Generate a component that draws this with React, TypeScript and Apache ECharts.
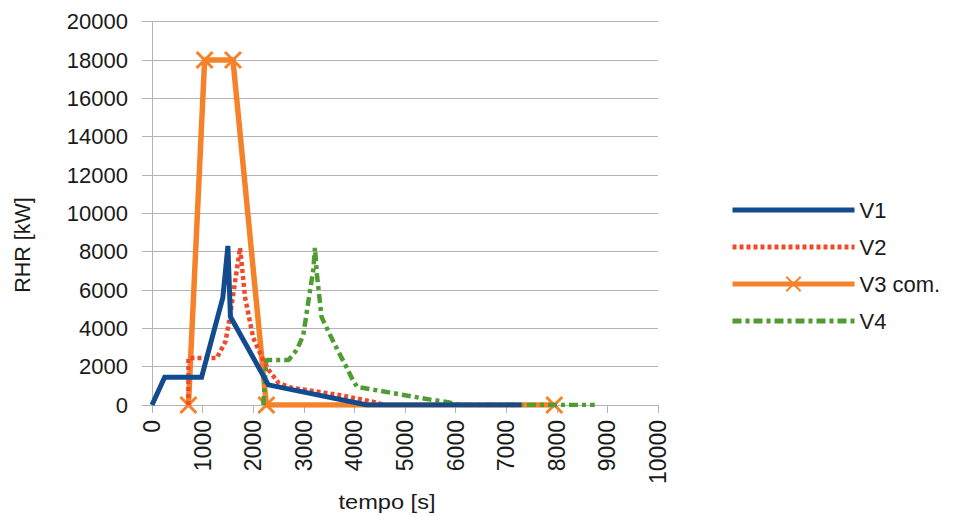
import React, { useEffect, useRef } from "react";
import * as echarts from "echarts";

const seriesNames = ["V1", "V2", "V3 com.", "V4"];

const v1Time = [0, 250, 980, 1400, 1500, 1550, 2300, 4250, 7300];
const v1Rhr = [0, 1450, 1450, 5600, 8300, 4600, 1050, 0, 0];

const v2Time = [720, 720, 1280, 1450, 1540, 1740, 1840, 2000, 2170, 2300, 2500, 2760, 3700, 4400, 4600];
const v2Rhr = [0, 2450, 2450, 3300, 4600, 8200, 5600, 3500, 2500, 1850, 1150, 900, 520, 150, 0];

const v3Time = [720, 1040, 1600, 2260, 7950];
const v3Rhr = [0, 18000, 18000, 0, 0];

const v4Time = [2200, 2260, 2700, 2860, 2990, 3090, 3190, 3220, 3260, 3350, 3520, 3680, 3820, 3950, 4050, 5500, 5850, 6100, 8750];
const v4Rhr = [0, 2350, 2350, 2870, 3650, 5400, 7100, 8200, 6800, 4600, 3650, 2800, 2100, 1400, 950, 280, 150, 0, 0];

const xAxisTitle = "tempo [s]";
const yAxisTitle = "RHR [kW]";

const colors = ["#124b8e", "#ef4a2b", "#f5822a", "#4f9c33"];

function pairs(t: number[], q: number[]) {
  return t.map((x, i) => [x, q[i]]);
}

const FONT = "Liberation Sans";
const hidden = { color: "rgba(0,0,0,0)", borderWidth: 0, borderColor: "rgba(0,0,0,0)" };

export default function App() {
  const ref = useRef<HTMLDivElement>(null);
  useEffect(() => {
    const chart = echarts.init(ref.current!, null, { renderer: "svg" });
    chart.setOption({
      animation: false,
      backgroundColor: "#ffffff",
      textStyle: { fontFamily: FONT },
      grid: { left: 152, right: 295, top: 21.7, bottom: 112, containLabel: false },
      legend: {
        orient: "vertical",
        left: 725,
        top: 194,
        data: [
          { name: seriesNames[0], itemStyle: hidden },
          { name: seriesNames[1], itemStyle: hidden },
          { name: seriesNames[2] },
          { name: seriesNames[3], itemStyle: hidden },
        ],
        itemWidth: 122,
        itemHeight: 18,
        itemGap: 15,
        textStyle: { fontSize: 22, color: "#1a1a1a", fontFamily: FONT },
        lineStyle: { width: 5 },
      },
      xAxis: {
        type: "value",
        min: 0,
        max: 10000,
        interval: 1000,
        axisLine: { show: true, lineStyle: { color: "#b3b3b3", width: 1 } },
        axisTick: { show: true, length: 8, lineStyle: { color: "#b3b3b3" } },
        splitLine: { show: false },
        axisLabel: {
          rotate: 90,
          fontSize: 23,
          color: "#1a1a1a",
          margin: 15,
          fontFamily: FONT,
          formatter: (v: number) => String(v),
        },
      },
      yAxis: {
        type: "value",
        min: 0,
        max: 20000,
        interval: 2000,
        axisLine: { show: true, lineStyle: { color: "#b3b3b3", width: 1 } },
        axisTick: { show: true, length: 10, lineStyle: { color: "#b3b3b3" } },
        splitLine: { show: true, lineStyle: { color: "#b3b3b3", width: 1 } },
        axisLabel: {
          fontSize: 22,
          color: "#1a1a1a",
          margin: 24,
          fontFamily: FONT,
          formatter: (v: number) => String(v),
        },
      },
      graphic: [
        {
          type: "text",
          x: 387,
          y: 502,
          scaleX: 1.18,
          style: {
            text: xAxisTitle,
            fontSize: 20,
            fontFamily: FONT,
            fill: "#1a1a1a",
            align: "center",
            verticalAlign: "middle",
          },
        },
        {
          type: "text",
          x: 23,
          y: 245,
          rotation: Math.PI / 2,
          style: {
            text: yAxisTitle,
            fontSize: 21.5,
            fontFamily: FONT,
            fill: "#1a1a1a",
            align: "center",
            verticalAlign: "middle",
          },
        },
      ],
      series: [
        {
          name: seriesNames[0],
          type: "line",
          z: 5,
          data: pairs(v1Time, v1Rhr),
          symbol: "none",
          lineStyle: { color: colors[0], width: 5, join: "miter" },
          itemStyle: { color: colors[0] },
        },
        {
          name: seriesNames[1],
          type: "line",
          z: 4,
          data: pairs(v2Time, v2Rhr),
          symbol: "none",
          lineStyle: { color: colors[1], width: 4.5, type: [4, 3], cap: "butt" },
          itemStyle: { color: colors[1] },
        },
        {
          name: seriesNames[2],
          type: "line",
          z: 2,
          data: pairs(v3Time, v3Rhr),
          symbol: "path://M0,0L16,16M0,16L16,0",
          symbolSize: 16,
          showAllSymbol: true,
          lineStyle: { color: colors[2], width: 5.5, join: "miter" },
          itemStyle: { color: colors[2], borderColor: colors[2], borderWidth: 3 },
        },
        {
          name: seriesNames[3],
          type: "line",
          z: 3,
          data: pairs(v4Time, v4Rhr),
          symbol: "none",
          lineStyle: { color: colors[3], width: 4.5, type: [9, 4, 4, 4], cap: "butt" },
          itemStyle: { color: colors[3] },
        },
      ],
    });
    return () => chart.dispose();
  }, []);
  return <div ref={ref} style={{ position: "fixed", left: 0, top: 0, width: 953, height: 517 }} />;
}
